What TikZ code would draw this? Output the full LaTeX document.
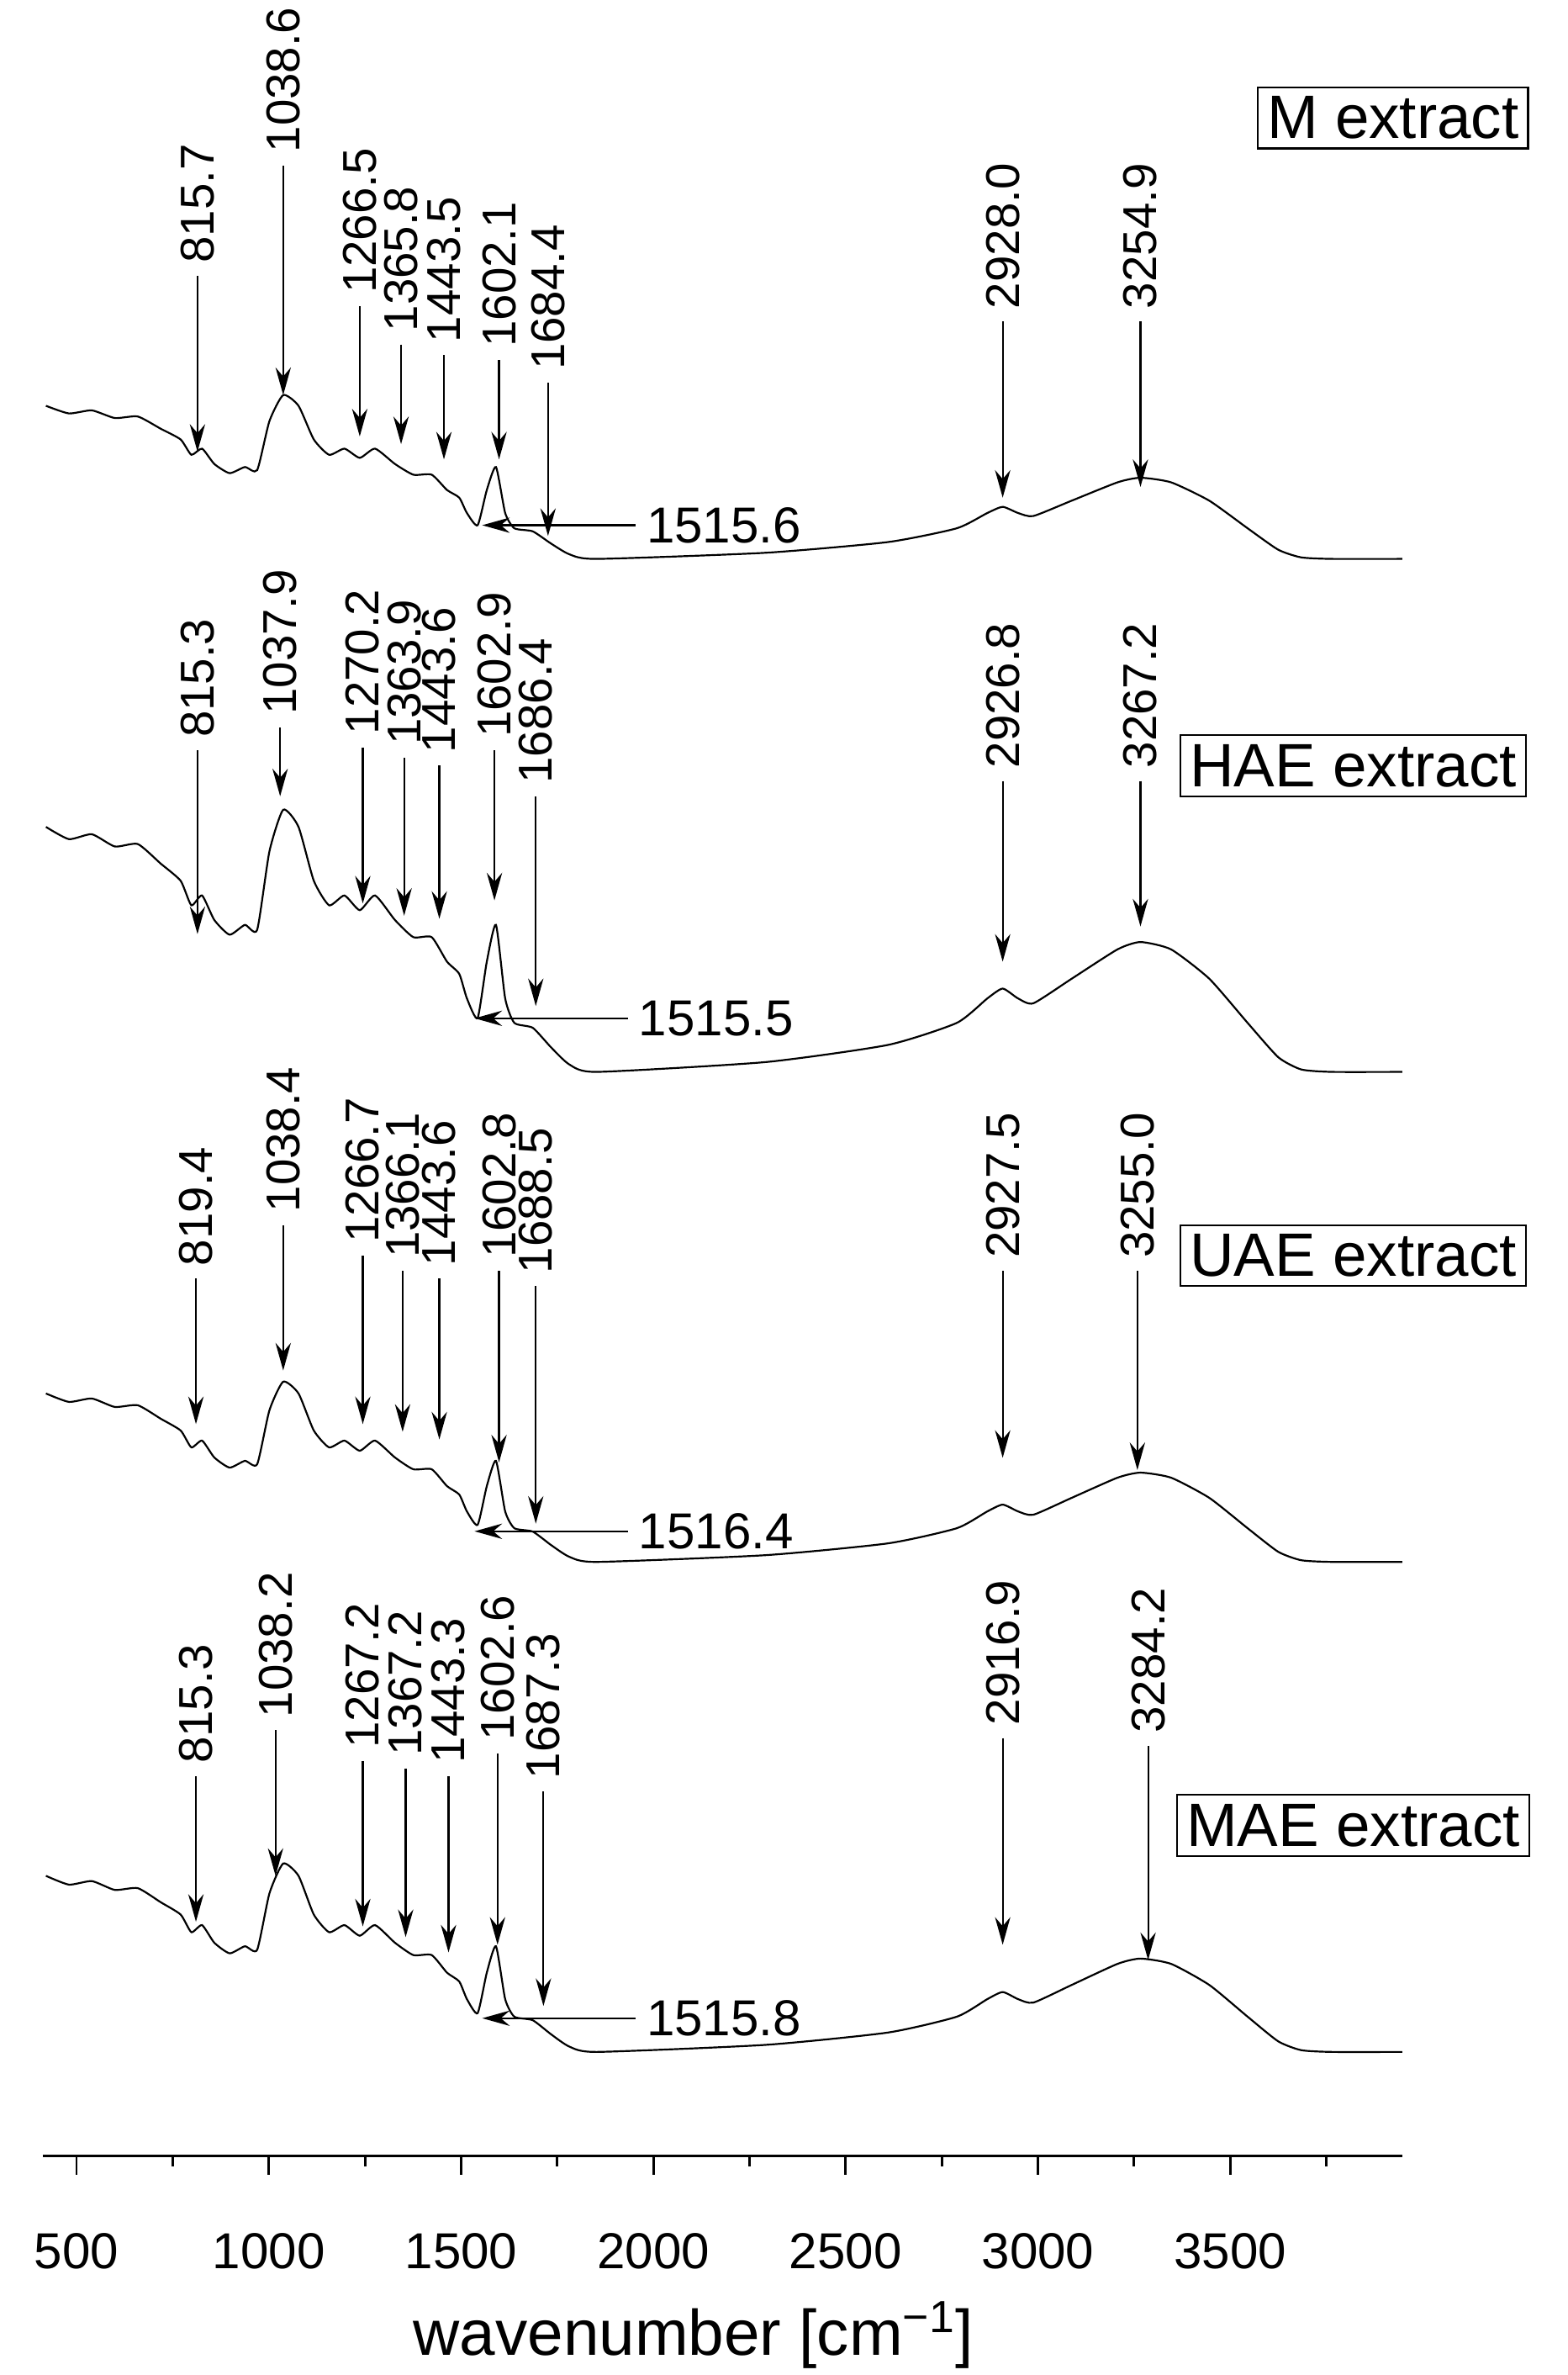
\documentclass[tikz,border=0pt]{standalone}
\usepackage{fontspec}
\setmainfont{Liberation Sans}
\usetikzlibrary{arrows.meta}
\tikzset{arr/.style={-{Stealth[length=9pt,width=5pt]},line width=0.6pt},
lbl/.style={rotate=90,anchor=west,inner sep=1pt,font=\fontsize{15.5}{15}\selectfont},
hlbl/.style={anchor=west,inner sep=1pt,font=\fontsize{16.5}{16}\selectfont},
box/.style={draw,line width=0.6pt,inner sep=3pt,font=\fontsize{20}{20}\selectfont},
spec/.style={line width=0.6pt}}
\newcommand\pk[4]{\draw[arr] (#1,#2) -- (#1,#3); \node[lbl] at (#1,#2-6) {#4};}
\newcommand\hpk[3]{\draw[arr] (#1,#2) -- (#1-100,#2); \node[hlbl] at (#1+5,#2) {#3};}
\newcommand\spectrum[2]{\begin{scope}[yshift={-#1*0.5pt}]\begin{scope}[yscale=#2]
\draw[spec] plot[smooth,tension=0.35] coordinates {(30,-100)(45,-95)(60,-97)(75,-92)(90,-93)(105,-85)(118,-78)(125,-68)(132,-72)(140,-62)(150,-56)(160,-60)(168,-58)(176,-90)(185,-107)(195,-100)(205,-78)(215,-68)(225,-72)(235,-66)(245,-72)(258,-62)(270,-55)(282,-55)(292,-45)(300,-40)(305,-30)(312,-22)(318,-45)(324,-60)(330,-30)(336,-20)(348,-18)(360,-10)(372,-3)(390,0)(500,-4)(580,-11)(625,-20)(645,-30)(655,-34)(665,-30)(675,-28)(700,-38)(730,-50)(745,-53)(765,-50)(790,-38)(815,-20)(835,-6)(850,-1)(870,0)(916,0)};
\end{scope}\end{scope}}
\begin{document}
\begin{tikzpicture}[x=0.5pt,y=-0.5pt]
\useasboundingbox (0,0) rectangle (1024,1551);
\spectrum{365}{1}
\spectrum{700}{1.6}
\spectrum{1020}{1.1}
\spectrum{1340}{1.15}
\node[box] (m) at (910,77) {M extract};
\node[box] (h) at (884,500) {HAE extract};
\node[box] (u) at (884,820) {UAE extract};
\node[box] (a) at (884,1192) {MAE extract};
% M
\pk{129}{180}{295}{815.7}\pk{185}{108}{258}{1038.6}\pk{235}{200}{285}{1266.5}
\pk{262}{225}{290}{1365.8}\pk{290}{232}{300}{1443.5}\pk{326}{235}{300}{1602.1}
\pk{358}{250}{350}{1684.4}\pk{655}{210}{325}{2928.0}\pk{745}{210}{318}{3254.9}
\hpk{415}{343}{1515.6}
% HAE
\pk{129}{490}{610}{815.3}\pk{183}{475}{520}{1037.9}\pk{237}{488}{590}{1270.2}
\pk{264}{495}{598}{1363.9}\pk{287}{500}{600}{1443.6}\pk{323}{490}{588}{1602.9}
\pk{350}{520}{657}{1686.4}\pk{655}{510}{628}{2926.8}\pk{745}{510}{605}{3267.2}
\hpk{410}{665}{1515.5}
% UAE
\pk{128}{835}{930}{819.4}\pk{185}{800}{895}{1038.4}\pk{237}{820}{930}{1266.7}
\pk{263}{830}{935}{1366.1}\pk{287}{835}{940}{1443.6}\pk{326}{830}{955}{1602.8}
\pk{350}{840}{995}{1688.5}\pk{655}{830}{952}{2927.5}\pk{743}{830}{960}{3255.0}
\hpk{410}{1000}{1516.4}
% MAE
\pk{128}{1160}{1255}{815.3}\pk{180}{1130}{1225}{1038.2}\pk{237}{1150}{1258}{1267.2}
\pk{265}{1155}{1265}{1367.2}\pk{293}{1160}{1275}{1443.3}\pk{325}{1145}{1270}{1602.6}
\pk{355}{1170}{1310}{1687.3}\pk{655}{1135}{1270}{2916.9}\pk{750}{1140}{1280}{3284.2}
\hpk{415}{1318}{1515.8}
% axis
\draw[line width=0.8pt] (28,1408) -- (916,1408);
\foreach \w in {500,1000,...,3500} {\draw[line width=0.8pt] ({50+(\w-500)*0.2512},1408) -- ++(0,12);
 \node[font=\fontsize{16.5}{16}\selectfont] at ({50+(\w-500)*0.2512},1470) {\w};}
\foreach \w in {750,1250,...,3750} \draw[line width=0.8pt] ({50+(\w-500)*0.2512},1408) -- ++(0,7);
\node[font=\fontsize{21}{21}\selectfont] (xl) at (453,1525) {wavenumber [cm\textsuperscript{\symbol{"2212}1}]};
\end{tikzpicture}
\end{document}
